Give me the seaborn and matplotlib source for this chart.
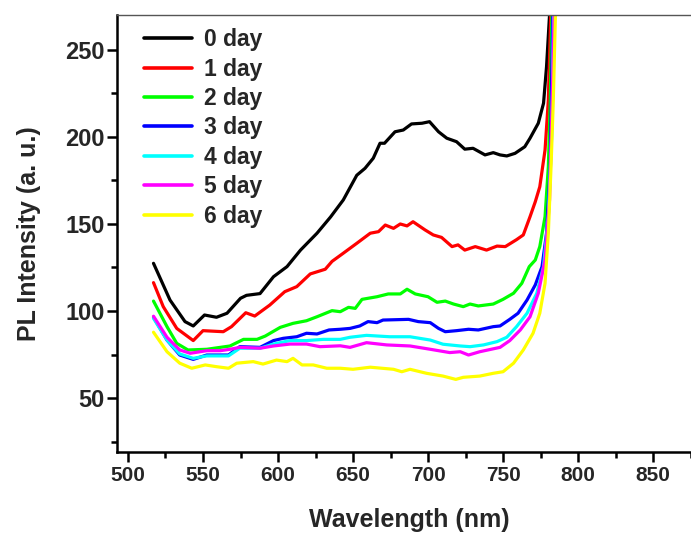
import matplotlib
matplotlib.use('Agg')
import matplotlib.pyplot as plt
import numpy as np
import pandas as pd
import seaborn as sns

days = ['0 day', '1 day', '2 day', '3 day', '4 day', '5 day', '6 day']
colors = ['#000000', '#ff0000', '#00ff00', '#0000ff', '#00ffff', '#ff00ff', '#ffff00']

# values (wavelength in nm, PL intensity in a.u.)
wl_0 = [517, 528, 538, 543.5, 551, 559, 566, 575, 579, 588, 597, 606, 615, 626, 635, 643.5,
        652.5, 658, 663.5, 668, 671, 678, 683.5, 689, 696, 701, 707, 712.5, 719, 724.5, 730,
        738, 743.5, 748, 752.5, 758, 764.5, 768, 773.5, 777, 779, 781, 782]
pl_0 = [127.4, 106.3, 93.9, 91.4, 97.7, 96.4, 98.7, 107.3, 109, 110, 119.7, 125.5, 135, 144.7,
        154, 163.8, 178, 182, 187.8, 196.4, 196.4, 203, 204, 207.5, 207.9, 208.8, 203, 199.3,
        197.3, 193, 193.5, 189.7, 191, 189.7, 189.1, 190.6, 194.4, 199.3, 207.9, 219.4, 240.4,
        270, 300]

wl_1 = [517, 523.5, 532.5, 543.5, 550, 563.5, 569, 578.5, 584.5, 594.5, 604.5, 612.5, 621.5,
        631.5, 636, 643.5, 652.5, 661.5, 667, 671.5, 677, 681.5, 686, 690, 698, 703.5, 709, 716,
        720, 724.5, 731.5, 739, 746, 751.5, 759, 763.5, 768, 771.5, 774.5, 778, 780.2, 781.8, 782.5]
pl_1 = [116.3, 102.5, 90, 83, 88.7, 88.1, 91, 99, 97.1, 103.4, 111.1, 114, 121.3, 124, 128.5,
        133.2, 138.9, 144.7, 145.6, 149.4, 147.5, 150, 148.9, 151.3, 146.6, 143.7, 142.3, 137,
        138, 135, 137, 135, 137.3, 137, 141, 143.7, 154.2, 162.8, 171.4, 192.5, 221, 270, 300]

wl_2 = [517, 526, 532.5, 540, 552.5, 568, 577, 586, 591.5, 601.5, 610, 619, 626, 636, 641.5,
        647, 651.5, 656, 666, 673.5, 681.5, 686, 691.5, 700, 706, 711.5, 717, 723.5, 728, 733.5,
        743.5, 750, 757, 762.5, 767.5, 771.5, 774.5, 778, 780.2, 781.5, 783]
pl_2 = [105.7, 91, 81.4, 77.6, 78, 79.9, 83.7, 83.7, 85.6, 90.6, 92.9, 94.4, 96.7, 100.2, 99.6,
        102.1, 101.5, 106.7, 108.2, 109.8, 109.8, 112.5, 109.8, 108.2, 105, 105.7, 104, 102.5,
        104, 102.9, 104, 106.7, 110.2, 115.9, 125.5, 129.3, 137, 154.2, 182.9, 221, 290]

wl_3 = [517, 526, 534.5, 543.5, 552.5, 567, 574.5, 588, 597, 603.5, 612.5, 619, 626, 634,
        641.5, 648, 654.5, 660, 666, 670, 687, 693.5, 701.5, 707, 711.5, 719, 727, 733.5, 743.5,
        748, 754.5, 760, 766, 771.5, 776, 779, 781.5, 783.5]
pl_3 = [96.4, 83.3, 74.7, 72.2, 74.7, 74.7, 79.5, 79.1, 83, 84.3, 85.2, 87.2, 86.8, 89.1, 89.5,
        90, 91.4, 93.9, 93.3, 94.8, 95.2, 93.9, 93.3, 90, 88.1, 88.7, 89.5, 89.1, 91, 91.4, 95.2,
        98.7, 106.3, 115, 125.5, 144.7, 182.9, 290]

wl_4 = [517, 526, 534.5, 543.5, 552.5, 567, 574.5, 588, 597, 608, 619, 630, 641.5, 648, 659,
        674.5, 688, 701.5, 710, 721.5, 728, 737, 746, 752.5, 759, 766, 772.5, 777, 780.2, 782.5,
        784]
pl_4 = [95.8, 83.3, 75.3, 72.8, 74.2, 74.2, 78.6, 78.6, 81, 83, 83, 83.7, 83.7, 84.9, 86, 85.2,
        85.2, 83.3, 80.9, 79.9, 79.5, 80.5, 82.4, 84.9, 91, 98.7, 110.2, 125.5, 154.2, 202, 290]

wl_5 = [517, 526, 534.5, 541.5, 552.5, 561.5, 568, 574.5, 588, 597, 608, 619, 628, 641.5, 648,
        659, 672.5, 688, 701.5, 714.5, 721.5, 727, 734.5, 748, 754.5, 761.5, 768, 773.5, 778,
        781, 782.8, 784.5]
pl_5 = [97, 84.9, 77.6, 75.7, 77.2, 77.2, 78, 79.1, 78.6, 79.9, 81, 81, 79.5, 80, 79.1, 81.8,
        80.5, 79.9, 78, 76.1, 76.6, 74.7, 76.6, 79.1, 83, 89.1, 96.7, 110.2, 129.3, 163.8, 221, 290]

wl_6 = [517, 526, 534.5, 542.5, 551.5, 559, 567, 572.5, 583.5, 590, 599, 606, 610, 616, 623.5,
        632.5, 641.5, 650, 661.5, 677, 682.5, 688, 699, 710, 718.5, 723.5, 734.5, 743.5, 750,
        757, 763.5, 770, 774.5, 778, 780.2, 782, 783.5, 785.5]
pl_6 = [87.8, 76.6, 70, 67.1, 69, 68, 67.1, 70, 70.9, 69.5, 71.8, 70.9, 72.8, 69, 69, 67.1,
        67.1, 66.5, 67.7, 66.5, 65.1, 66.5, 64.2, 62.6, 60.7, 61.9, 62.6, 64.2, 65.1, 70, 77.6,
        87.2, 98.7, 115.9, 144.7, 182.9, 221, 290]

wls = [wl_0, wl_1, wl_2, wl_3, wl_4, wl_5, wl_6]
pls = [pl_0, pl_1, pl_2, pl_3, pl_4, pl_5, pl_6]

frames = []
for day, wl, pl in zip(days, wls, pls):
    frames.append(pd.DataFrame({'wavelength': wl, 'intensity': pl, 'day': day}))
df = pd.concat(frames, ignore_index=True)

sns.set_style('ticks')
plt.rcParams['font.family'] = ['Liberation Sans', 'DejaVu Sans']
plt.rcParams['font.weight'] = 'bold'

fig = plt.figure(figsize=(6.91, 5.36), dpi=100)
ax = fig.add_axes([117/691, 84/536, 574/691, 437/536])

sns.lineplot(data=df, x='wavelength', y='intensity', hue='day', hue_order=days,
             palette=colors, estimator=None, sort=False, linewidth=2.3, ax=ax)

ax.set_xlim(492.67, 875.3)
ax.set_ylim(18.97, 270.1)
ax.set_xticks(np.arange(500, 900, 50))
ax.set_xticks(np.arange(525, 900, 50), minor=True)
ax.set_yticks([50, 100, 150, 200, 250])
ax.set_yticks([25, 75, 125, 175, 225], minor=True)

ax.tick_params(which='major', direction='out', length=7, width=1.8, color='black', pad=2)
ax.tick_params(which='minor', direction='out', length=4, width=1.8, color='black')
ax.tick_params(axis='y', labelsize=17)
ax.tick_params(axis='x', labelsize=15, pad=3)
for lbl in ax.get_xticklabels() + ax.get_yticklabels():
    lbl.set_fontweight('bold')

for side in ['left', 'bottom']:
    ax.spines[side].set_linewidth(1.8)
    ax.spines[side].set_color('black')
ax.spines['top'].set_linewidth(1.0)
ax.spines['top'].set_color('#555555')
ax.spines['right'].set_visible(False)

ax.set_xlabel('Wavelength (nm)', fontsize=18, fontweight='bold')
ax.set_ylabel('PL Intensity (a. u.)', fontsize=18, fontweight='bold')
ax.xaxis.set_label_coords(0.509, -0.128)
ax.yaxis.set_label_coords(-0.132, 0.5)

handles, labels = ax.get_legend_handles_labels()
leg = ax.legend(handles, labels, loc='upper left', bbox_to_anchor=(0.047, 0.970),
                frameon=False, fontsize=16.5, handlelength=2.1, handletextpad=0.5,
                labelspacing=0.28, borderpad=0, borderaxespad=0)
for line in leg.get_lines():
    line.set_linewidth(2.6)
for t in leg.get_texts():
    t.set_fontweight('bold')

fig.savefig('out.png', dpi=100)
